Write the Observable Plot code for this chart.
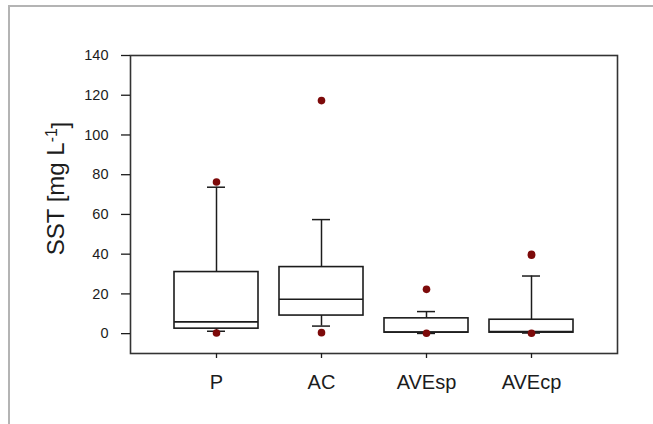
<!DOCTYPE html>
<html>
<head>
<meta charset="utf-8">
<script src="https://cdn.jsdelivr.net/npm/d3@7"></script>
<script src="https://cdn.jsdelivr.net/npm/@observablehq/plot@0.6"></script>
<style>
  html, body { margin: 0; padding: 0; background: #fff; }
  #wrap { position: relative; width: 653px; height: 424px; overflow: hidden; }
  #border { position: absolute; left: 8px; top: 5px; width: 660px; height: 430px;
            border-left: 2px solid #b4b4b4; border-top: 2px solid #b4b4b4; box-sizing: border-box; }
  #chart { position: absolute; left: 0; top: 0; }
</style>
</head>
<body>
<div id="wrap"><div id="border"></div><div id="chart"></div></div>
<script>
const categories = ["P", "AC", "AVEsp", "AVEcp"];
const whiskerLow = [1.2, 3.8, 0.1, 0.3];
const q1 = [2.5, 9.1, 0.5, 0.5];
const median = [5.9, 17.3, 0.8, 1.0];
const q3 = [31.0, 33.5, 7.7, 7.0];
const whiskerHigh = [73.7, 57.4, 11.1, 29.0];
const outlierCategory = ["P", "P", "AC", "AC", "AVEsp", "AVEsp", "AVEcp", "AVEcp", "AVEcp"];
const outlierValue = [76.3, 0.3, 117.3, 0.5, 22.3, 0.2, 39.5, 39.9, 0.2];
const yTicks = [0, 20, 40, 60, 80, 100, 120, 140];

const boxes = categories.map((c, i) => ({
  cat: c, lo: whiskerLow[i], q1: q1[i], med: median[i], q3: q3[i], hi: whiskerHigh[i]
}));
const outliers = outlierCategory.map((c, i) => ({cat: c, v: outlierValue[i]}));

const ink = "#1c1c1c";
const chart = Plot.plot({
  width: 653,
  height: 424,
  marginLeft: 130,
  marginRight: 36,
  marginTop: 55,
  marginBottom: 71,
  style: {fontFamily: "'Liberation Sans', Arial, sans-serif", color: ink, background: "transparent"},
  x: {type: "band", domain: categories, paddingInner: 0.2, paddingOuter: 0.4125, label: null},
  y: {domain: [-10, 140], label: null},
  marks: [
    Plot.frame({stroke: "#333", strokeWidth: 1.6}),
    Plot.axisY({ticks: yTicks, tickSize: 9, tickPadding: 13, fontSize: 14.5, label: null, strokeWidth: 1.3}),
    Plot.axisX({tickSize: 5, tickPadding: 16, fontSize: 20, label: null, strokeWidth: 1.3}),
    Plot.ruleX(boxes, {x: "cat", y1: "q3", y2: "hi", stroke: ink, strokeWidth: 1.5}),
    Plot.ruleX(boxes, {x: "cat", y1: "lo", y2: "q1", stroke: ink, strokeWidth: 1.5}),
    Plot.tickY(boxes, {x: "cat", y: "hi", stroke: ink, strokeWidth: 1.5, insetLeft: 33, insetRight: 33}),
    Plot.tickY(boxes, {x: "cat", y: "lo", stroke: ink, strokeWidth: 1.5, insetLeft: 33, insetRight: 33}),
    Plot.barY(boxes, {x: "cat", y1: "q1", y2: "q3", fill: "white", stroke: ink, strokeWidth: 1.6}),
    Plot.tickY(boxes, {x: "cat", y: "med", stroke: ink, strokeWidth: 1.6}),
    Plot.dot(outliers, {x: "cat", y: "v", r: 3.8, fill: "#7d0a0a", stroke: "none"}),
    Plot.text(["SST [mg L-1]"], {frameAnchor: "left", textAnchor: "middle", rotate: -90, dx: -74, dy: -16, fontSize: 24, fill: ink})
  ]
});
document.getElementById("chart").appendChild(chart);

// superscript for the y-axis title
d3.select(chart).selectAll("text").filter(function() { return this.textContent === "SST [mg L-1]"; })
  .each(function() {
    const t = d3.select(this);
    t.text(null);
    t.append("tspan").text("SST [mg L");
    t.append("tspan").attr("dy", "-0.45em").attr("font-size", "0.65em").text("-1");
    t.append("tspan").attr("dy", "0.45em").text("]");
  });
</script>
</body>
</html>
